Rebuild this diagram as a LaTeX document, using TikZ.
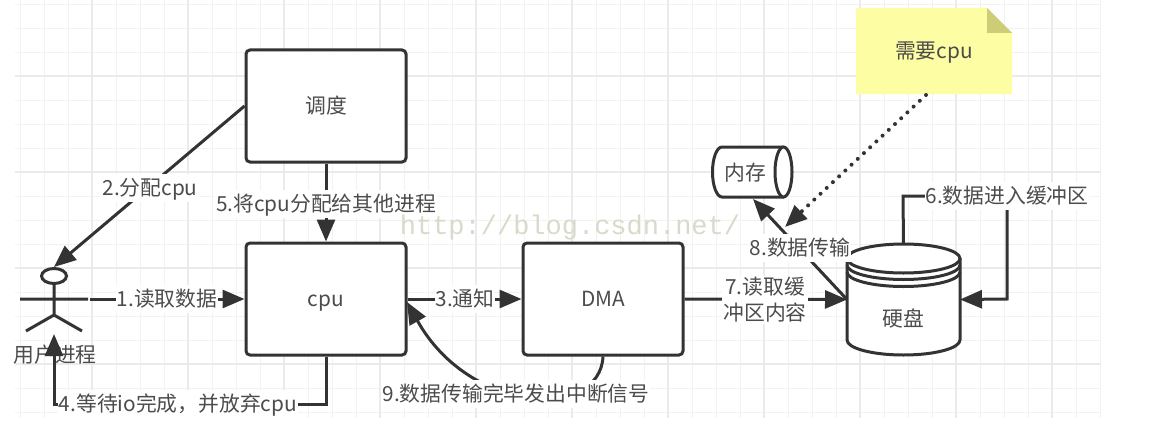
\documentclass[tikz,border=0pt]{standalone}
\usepackage{fontspec}
\setmainfont{Noto Sans CJK SC}
\newfontfamily\wmfont{Liberation Mono}
\usetikzlibrary{arrows.meta,positioning,shapes.geometric}
\definecolor{ink}{HTML}{333333}
\definecolor{txt}{HTML}{4c4c4c}
\definecolor{wmcolor}{HTML}{DADACB}
\definecolor{notefill}{RGB}{253,253,163}
\definecolor{notefold}{RGB}{205,205,120}
\tikzset{
  gridminor/.style={draw=black!5,line width=0.8pt},
  gridmajor/.style={draw=black!8,line width=1.1pt},
  boxnode/.style={draw=ink,line width=3pt,rounded corners=4pt,fill=white,minimum width=160pt,minimum height=112pt,inner sep=0pt,text=txt,text height=20pt,text depth=6pt,font=\fontsize{20.8}{24}\selectfont},
  ghost/.style={inner sep=0pt,outer sep=0pt,text=txt,text height=20pt,text depth=6pt,font=\fontsize{20.8}{24}\selectfont},
  lblbase/.style={fill=white,inner sep=1pt,text=txt,align=center,font=\fontsize{20.8}{26}\selectfont},
  lbl/.style={lblbase,text height=20pt,text depth=6pt},
  conn/.style={draw=ink,line width=3pt,-{Triangle[length=22pt,width=18pt]}},
  shapeline/.style={draw=ink,line width=3pt,fill=white,line join=round},
  plainline/.style={draw=ink,line width=3pt},
}
\begin{document}
\begin{tikzpicture}[x=1pt,y=-1pt]
\useasboundingbox (0,0) rectangle (1150,428);
\fill[white] (0,0) rectangle (1150,428);
% grid
\foreach \gx in {20,44,...,1100} {\draw[gridminor] (\gx,0) -- (\gx,418);}
\foreach \gy in {4,28,...,412} {\draw[gridminor] (15,\gy) -- (1101,\gy);}
\foreach \gx in {92,188,...,1052} {\draw[gridmajor] (\gx,0) -- (\gx,418);}
\foreach \gy in {76,172,268,364} {\draw[gridmajor] (15,\gy) -- (1101,\gy);}
% boxes
\node[boxnode] (sched) at (326,106) {调度};
\node[boxnode] (cpu) at (326,299) {cpu};
\node[boxnode] (dma) at (603,299) {DMA};
% disk
\draw[shapeline] (847,258) -- (847,340) arc[start angle=180,end angle=360,x radius=56.5pt,y radius=15pt] -- (960,258);
\draw[shapeline] (903.5,258.5) ellipse[x radius=56.5pt,y radius=14.5pt];
\draw[plainline] (847,265) arc[start angle=180,end angle=360,x radius=56.5pt,y radius=14.5pt];
\draw[plainline] (847,272) arc[start angle=180,end angle=360,x radius=56.5pt,y radius=14.5pt];
\node[inner sep=0pt,outer sep=0pt,minimum width=113pt,minimum height=111pt] (disk) at (903.5,299.5) {};
\node[ghost] (disktext) at (903,319) {硬盘};
% memory
\draw[shapeline] (784,147) -- (722,147) arc[start angle=90,end angle=270,x radius=9.5pt,y radius=25pt] -- (784,197);
\draw[shapeline] (783.5,172) ellipse[x radius=8.5pt,y radius=25pt];
\node[ghost] (mem) at (745,173) {内存};
% note
\fill[notefill] (856,8) -- (987,8) -- (1012,33) -- (1012,94) -- (856,94) -- cycle;
\fill[notefold] (987,8) -- (1012,33) -- (987,33) -- cycle;
\node[ghost] (note) at (934,52) {需要cpu};
% actor
\node[draw=ink,line width=3pt,fill=white,ellipse,minimum width=25pt,minimum height=15pt,inner sep=0pt] (head) at (54,276) {};
\coordinate (neck) at (54,284);
\coordinate (hip) at (54,315);
\coordinate (armL) at (20,299);
\coordinate (armR) at (88,299);
\coordinate (legL) at (26,331);
\coordinate (legR) at (82,331);
\draw[plainline] (neck) -- (hip) (armL) -- (armR) (legL) -- (hip) -- (legR);
\node[ghost] (actorlabel) at (55,355) {用户进程};
\coordinate (actorout) at (90,299);
\coordinate (actorfoot) at (54,334);
% connector waypoints
\coordinate (c4a) at (326,404);
\coordinate (c4b) at (54,404);
\coordinate (c6a) at (903,196);
\coordinate (c6b) at (1007,196);
\coordinate (c6c) at (1007,299);
\coordinate (memin) at (753,199);
\coordinate (notein) at (785,227);
\coordinate (noteout) at (926,95);
\coordinate (cpuin) at (407,302);
% connectors
\draw[conn] (actorout) -- (cpu.west|-actorout);
\draw[conn] (sched.west) -- (head.north);
\draw[conn] (cpu.east) -- (dma.west);
\draw[conn] (cpu.south) -- (c4a) -- (c4b) -- (actorfoot);
\draw[conn] (sched.south) -- (cpu.north);
\draw[conn] (disk.north) -- (c6a) -- (c6b) -- (c6c) -- (disk.east);
\draw[conn] (dma.east) -- (disk.west);
\draw[conn] (disk.west) -- (memin);
\draw[draw=ink,line width=4pt,dash pattern=on 0pt off 8.5pt,line cap=round,-{Triangle[length=22pt,width=18pt]}] (noteout) -- (notein);
\draw[conn] (dma.south) .. controls (600,420) and (470,415) .. (cpuin);
% labels
\node[lbl] (l1) at (167,299) {1.读取数据};
\node[lbl] (l2) at (150,188) {2.分配cpu};
\node[lbl] (l3) at (465,299) {3.通知};
\node[lbl] (l4) at (178,404) {4.等待io完成，并放弃cpu};
\node[lbl] (l5) at (326,204) {5.将cpu分配给其他进程};
\node[lbl] (l6) at (1007,196) {6.数据进入缓冲区};
\node[lblbase] (l7) at (765,300) {7.读取缓\\冲区内容};
\node[lbl] (l8) at (800,248) {8.数据传输};
\node[lbl] (l9) at (516,394) {9.数据传输完毕发出中断信号};
% watermark
\node[text=wmcolor,inner sep=0pt,font=\wmfont\fontsize{27}{30}\selectfont] (wm) at (570,228) {http://blog.csdn.net/};
\end{tikzpicture}
\end{document}
